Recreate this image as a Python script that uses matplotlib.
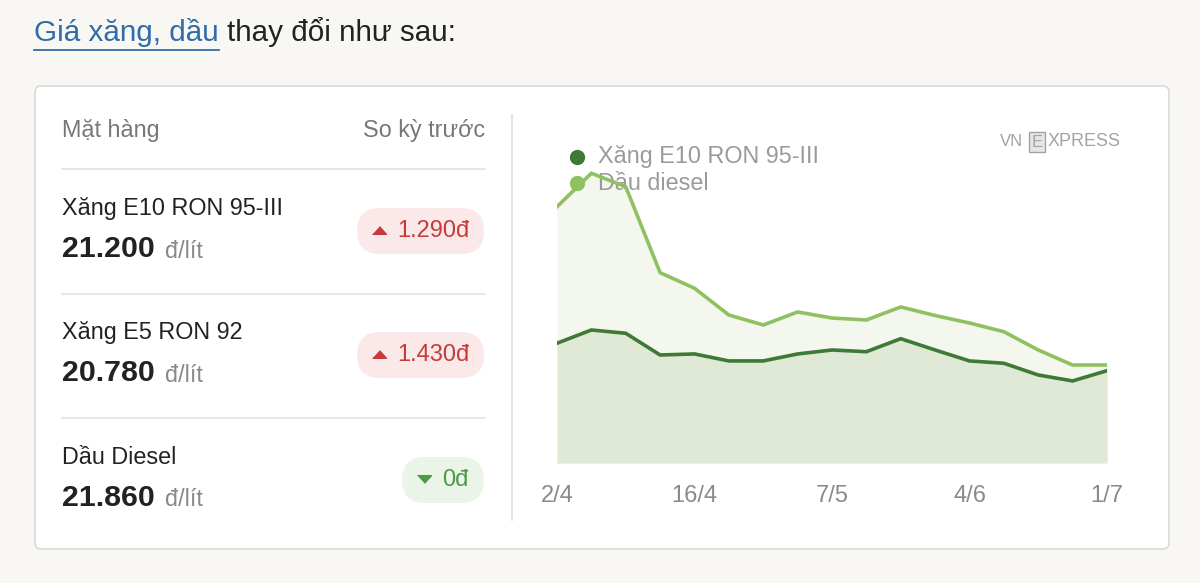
import matplotlib
matplotlib.use('Agg')
import matplotlib.pyplot as plt
from matplotlib.patches import FancyBboxPatch, Rectangle

plt.rcParams['font.family'] = ['Liberation Sans', 'DejaVu Sans']

# price table
items = ['Xăng E10 RON 95-III', 'Xăng E5 RON 92', 'Dầu Diesel']
prices = ['21.200', '20.780', '21.860']
changes = ['1.290đ', '1.430đ', '0đ']
change_up = [True, True, False]

# chart series (đ/lít), one point per adjustment
tick_idx = [0, 4, 8, 12, 16]
tick_labels = ['2/4', '16/4', '7/5', '4/6', '1/7']
e10 = [24380, 25920, 25540, 23020, 23140, 22330, 22330, 23140, 23600,
       23400, 24910, 23600, 22330, 22060, 20700, 20010, 21200]
diesel = [40220, 44100, 42540, 32570, 30760, 27660, 26500, 28010, 27310,
          27080, 28590, 27600, 26730, 25720, 23600, 21860, 21860]

W, H = 1200, 583
fig = plt.figure(figsize=(W / 100, H / 100), dpi=100)
fig.patch.set_facecolor('#f8f7f4')

# background layer in pixel coordinates
bg = fig.add_axes([0, 0, 1, 1])
bg.set_xlim(0, W)
bg.set_ylim(H, 0)
bg.axis('off')

# title
t1 = bg.text(34, 41, 'Giá xăng, dầu', fontsize=21.3, color='#2f6ca8', va='baseline')
fig.canvas.draw()
x_end = t1.get_window_extent().x1
bg.text(x_end + 8, 41, 'thay đổi như sau:', fontsize=21.3, color='#222222', va='baseline')
bg.plot([34, x_end], [50, 50], color='#2f6ca8', lw=1.3)

# card
card = FancyBboxPatch((35, 86), 1134, 463, boxstyle='round,pad=0,rounding_size=6',
                      facecolor='white', edgecolor='#d9d9d9', lw=1.2)
bg.add_patch(card)

# table header
gray = '#777777'
bg.text(62, 131, 'Mặt hàng', fontsize=16.8, color=gray, va='center')
bg.text(485, 131, 'So kỳ trước', fontsize=16.8, color=gray, va='center', ha='right')
for yl in [169, 294, 418]:
    bg.plot([62, 485], [yl, yl], color='#e3e3e3', lw=1.2)

tri_up = [(-1, -0.55), (1, -0.55), (0, 0.55)]
tri_dn = [(-1, 0.55), (1, 0.55), (0, -0.55)]

row_y = [207, 331, 456]
for i in range(len(items)):
    y = row_y[i]
    bg.text(62, y + 2, items[i], fontsize=16.8, color='#222222', va='center')
    pv = bg.text(62, y + 42, prices[i], fontsize=21.8, fontweight='bold',
                 color='#222222', va='center')
    fig.canvas.draw()
    px = pv.get_window_extent().x1
    bg.text(px + 10, y + 44, 'đ/lít', fontsize=16.8, color='#888888', va='center')

    if change_up[i]:
        bx, bw, fc, tc, mk = 357, 127, '#fbe9e9', '#c63a3a', tri_up
    else:
        bx, bw, fc, tc, mk = 402, 82, '#eaf4e7', '#4c9a48', tri_dn
    by = y + 1
    bg.add_patch(FancyBboxPatch((bx, by), bw, 46, boxstyle='round,pad=0,rounding_size=23',
                                facecolor=fc, edgecolor='none'))
    bg.plot([bx + 22], [by + 22], marker=mk, markersize=10, color=tc, linestyle='none')
    bg.text(bx + 40, by + 23, changes[i], fontsize=17, color=tc, va='center')

# separator
bg.plot([512, 512], [115, 520], color='#dedede', lw=1.2)

# logo
logo_c = '#a3a3a3'
bg.text(1000, 142, 'VN', fontsize=12, color=logo_c, va='center')
bg.add_patch(Rectangle((1029, 132), 16, 20, facecolor='#e6e6e6', edgecolor=logo_c, lw=1))
bg.text(1037, 142.5, 'E', fontsize=12, color=logo_c, va='center', ha='center')
bg.text(1048, 142, 'XPRESS', fontsize=13, color=logo_c, va='center')

# chart axes: x 557..1107, y 120..463 px
left, right, top, bottom = 557, 1107, 120, 463
ax = fig.add_axes([left / W, 1 - bottom / H, (right - left) / W, (bottom - top) / H])
ax.patch.set_alpha(0)
y_lo = 10490
y_hi = y_lo + (bottom - top) * 116
x = list(range(len(e10)))
ax.set_xlim(0, len(e10) - 1)
ax.set_ylim(y_lo, y_hi)

ax.fill_between(x, diesel, y_lo, color='#f3f7ee', lw=0, zorder=1)
ax.fill_between(x, e10, y_lo, color='#dfe9d5', lw=0, zorder=1.1)
ax.plot(x, diesel, color='#8fc160', lw=2.6, zorder=3, solid_joinstyle='miter')
ax.plot(x, e10, color='#3e7a36', lw=2.6, zorder=3, solid_joinstyle='miter')

for s in ax.spines.values():
    s.set_visible(False)
ax.set_yticks([])
ax.set_xticks(tick_idx)
ax.set_xticklabels(tick_labels, fontsize=17, color='#8a8a8a')
ax.tick_params(axis='x', length=0, pad=16)

# legend (drawn beneath the lines)
leg_names = ['Xăng E10 RON 95-III', 'Dầu diesel']
leg_colors = ['#3e7a36', '#8fc160']
for k in range(2):
    ly = 157 + 26 * k
    ax.plot([577 / W], [1 - ly / H], marker='o', markersize=10, color=leg_colors[k],
            transform=fig.transFigure, clip_on=False, zorder=2, linestyle='none')
    ax.text(598 / W, 1 - ly / H, leg_names[k], fontsize=16.8, color='#9a9a9a',
            transform=fig.transFigure, va='center', zorder=2)

fig.savefig('out.png', dpi=100, facecolor=fig.get_facecolor())
